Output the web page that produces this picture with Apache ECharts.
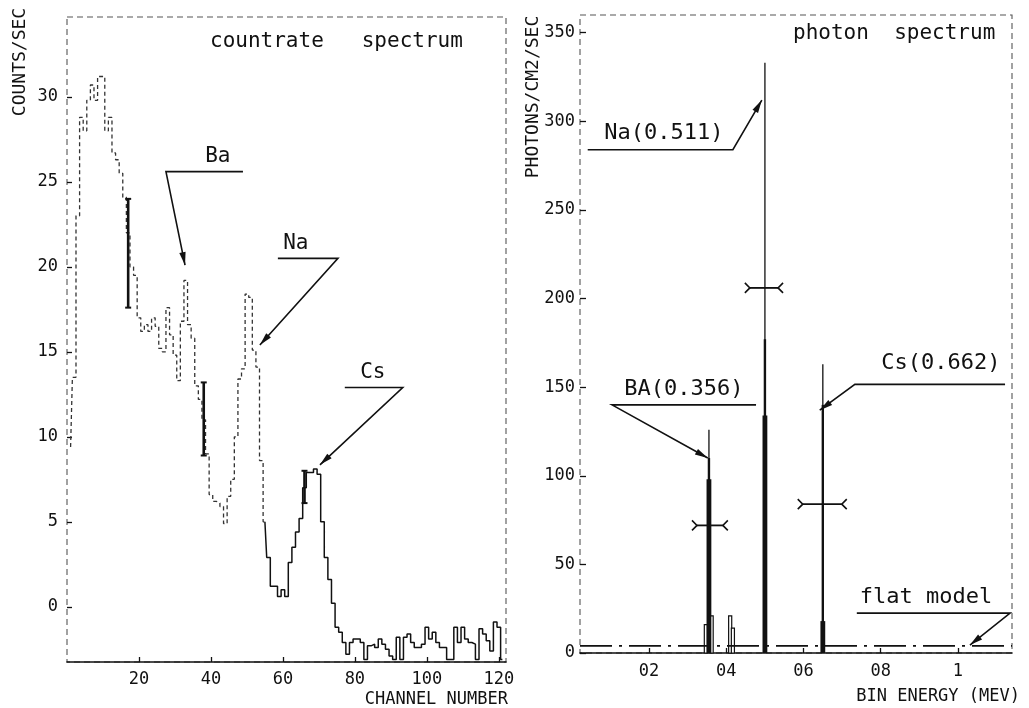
<!DOCTYPE html>
<html lang="en">
<head>
    <meta charset="UTF-8">
    <title>countrate and photon spectrum</title>
    <style>
        * {
            margin: 0;
            padding: 0;
            box-sizing: border-box;
        }

        html, body {
            width: 1029px;
            height: 708px;
            background: #ffffff;
            overflow: hidden;
        }

        #chart {
            width: 1029px;
            height: 708px;
        }
    </style>
    <script src="https://cdn.jsdelivr.net/npm/echarts@6/dist/echarts.min.js"></script>
</head>
<body>
<div id="chart"></div>
<script type="text/javascript">
    // ---- countrate spectrum (left) ----
    var channels = []
    for (var c = 1; c <= 121; c++) channels.push(c)
    var counts = [
        9.4, 13.5, 23.0, 28.8, 28.0, 29.8, 30.7, 29.8, 31.2, 31.2,
        28.0, 28.8, 26.7, 26.3, 25.5, 24.1, 22.0, 20.0, 19.5, 17.0,
        16.2, 16.6, 16.2, 17.0, 16.5, 15.2, 15.0, 17.6, 16.0, 14.8,
        13.3, 16.8, 19.2, 16.6, 15.8, 13.0, 12.2, 11.0, 9.0, 6.6,
        6.2, 6.1, 5.9, 4.9, 6.5, 7.5, 10.0, 13.4, 14.0, 18.4,
        18.2, 15.1, 14.1, 8.6, 5.0, 2.9, 1.2, 1.2, 0.6, 1.0,
        0.6, 2.6, 3.5, 4.4, 5.2, 7.0, 7.9, 7.9, 8.1, 7.8,
        5.0, 2.9, 1.6, 0.2, -1.2, -1.5, -2.1, -2.8, -2.1, -1.9,
        -1.9, -2.1, -3.1, -2.3, -2.2, -2.4, -1.9, -2.2, -2.5, -2.9,
        -3.1, -1.8, -3.1, -1.8, -1.6, -2.1, -2.4, -2.4, -2.2, -1.2,
        -1.9, -1.5, -2.1, -2.4, -2.4, -3.1, -3.1, -1.2, -2.1, -1.2,
        -1.9, -2.1, -2.2, -3.1, -1.3, -1.6, -2.0, -2.6, -0.9, -1.2,
        -3.1
    ]
    var countErrCh = [17, 38, 66]
    var countErrLo = [17.6, 8.9, 6.1]
    var countErrHi = [24.0, 13.2, 8.0]
    var countTicksX = [20, 40, 60, 80, 100, 120]
    var countTicksY = [0, 5, 10, 15, 20, 25, 30]

    // ---- photon spectrum (right) ----
    var lineE = [0.355, 0.500, 0.650]
    var lineBase = [98, 134, 18]
    var lineMid = [110, 177, 140]
    var lineTop = [126, 333, 163]
    var sideE = [0.347, 0.362, 0.410, 0.417]
    var sideH = [16, 21, 21, 14]
    var photErrY = [72, 206, 84]
    var photErrLo = [0.324, 0.461, 0.598]
    var photErrHi = [0.391, 0.534, 0.699]
    var flatLevel = 4
    var photTicksX = [0.2, 0.4, 0.6, 0.8, 1.0]
    var photTicksY = [0, 50, 100, 150, 200, 250, 300, 350]

    var INK = '#111111'
    var MONO = '"DejaVu Sans Mono", monospace'

    function pairs(xs, ys) {
        return xs.map(function (x, i) { return [x, ys[i]] })
    }

    // callout: label text + polyline ending in an arrow, all in data units
    function callout(xi, yi, notes, fontSize) {
        return {
            type: 'custom',
            xAxisIndex: xi,
            yAxisIndex: yi,
            silent: true,
            clip: false,
            z: 10,
            data: notes.map(function (n) { return n.at }),
            renderItem: function (params, api) {
                var n = notes[params.dataIndex]
                var pts = n.path.map(function (p) { return api.coord(p) })
                var tip = pts[pts.length - 1]
                var prev = pts[pts.length - 2]
                var a = Math.atan2(tip[1] - prev[1], tip[0] - prev[0])
                var L = 13, W = 3.2
                var bx = tip[0] - L * Math.cos(a), by = tip[1] - L * Math.sin(a)
                var head = [tip,
                    [bx + W * Math.sin(a), by - W * Math.cos(a)],
                    [bx - W * Math.sin(a), by + W * Math.cos(a)]]
                var t = api.coord(n.at)
                return {
                    type: 'group',
                    children: [
                        {type: 'polyline', shape: {points: pts}, style: {stroke: INK, lineWidth: 1.6, fill: null}},
                        {type: 'polygon', shape: {points: head}, style: {fill: INK}},
                        {
                            type: 'text', x: t[0], y: t[1],
                            style: {
                                text: n.text, font: fontSize + 'px ' + MONO, fill: INK,
                                align: 'center', verticalAlign: 'middle'
                            }
                        }
                    ]
                }
            }
        }
    }

    var tickFont = {fontFamily: MONO, fontSize: 17, color: INK}

    var option = {
        backgroundColor: '#ffffff',
        animation: false,
        grid: [
            {left: 67, top: 17, width: 439, height: 645, show: true,
                borderColor: '#555', borderWidth: 1.1, borderType: [6, 4]},
            {left: 580, top: 15, width: 432, height: 638, show: true,
                borderColor: '#555', borderWidth: 1.1, borderType: [6, 4]}
        ],
        xAxis: [
            {
                type: 'value', gridIndex: 0, min: 0, max: 122,
                axisLine: {show: true, onZero: false, lineStyle: {color: INK, width: 1.6}},
                axisTick: {inside: true, length: 5, customValues: countTicksX, lineStyle: {color: INK, width: 1.3}},
                axisLabel: Object.assign({customValues: countTicksX, margin: 9}, tickFont),
                splitLine: {show: false}
            },
            {
                type: 'value', gridIndex: 1, min: 0.021, max: 1.14,
                axisLine: {show: true, onZero: false, lineStyle: {color: INK, width: 1.6}},
                axisTick: {inside: true, length: 5, customValues: photTicksX, lineStyle: {color: INK, width: 1.3}},
                axisLabel: Object.assign({
                    customValues: photTicksX, margin: 10,
                    formatter: function (v) {
                        return Math.abs(v - 1) < 1e-6 ? '1' : '0' + Math.round(v * 10)
                    }
                }, tickFont),
                splitLine: {show: false}
            }
        ],
        yAxis: [
            {
                type: 'value', gridIndex: 0, min: -3.25, max: 34.7,
                axisLine: {show: false, onZero: false},
                axisTick: {inside: true, length: 5, customValues: countTicksY, lineStyle: {color: INK, width: 1.3}},
                axisLabel: Object.assign({customValues: countTicksY, margin: 9}, tickFont),
                splitLine: {show: false}
            },
            {
                type: 'value', gridIndex: 1, min: 0, max: 360,
                axisLine: {show: false, onZero: false},
                axisTick: {inside: true, length: 6, customValues: photTicksY, lineStyle: {color: INK, width: 1.3}},
                axisLabel: Object.assign({customValues: photTicksY, margin: 5}, tickFont),
                splitLine: {show: false}
            }
        ],
        graphic: [
            {type: 'text', left: 210, top: 31, style: {text: 'countrate   spectrum', font: '21px ' + MONO, fill: INK}},
            {type: 'text', left: 793, top: 23, style: {text: 'photon  spectrum', font: '21px ' + MONO, fill: INK}},
            {type: 'text', x: 20, y: 62, rotation: Math.PI / 2,
                style: {text: 'COUNTS/SEC', font: '18px ' + MONO, fill: INK, align: 'center', verticalAlign: 'middle'}},
            {type: 'text', x: 533, y: 97, rotation: Math.PI / 2,
                style: {text: 'PHOTONS/CM2/SEC', font: '18px ' + MONO, fill: INK, align: 'center', verticalAlign: 'middle'}},
            {type: 'text', x: 508, y: 700,
                style: {text: 'CHANNEL NUMBER', font: '17px ' + MONO, fill: INK, align: 'right', verticalAlign: 'middle'}},
            {type: 'text', x: 1020, y: 697,
                style: {text: 'BIN ENERGY (MEV)', font: '17px ' + MONO, fill: INK, align: 'right', verticalAlign: 'middle'}}
        ],
        series: [
            // faint dashed part of the countrate histogram
            {
                type: 'line', xAxisIndex: 0, yAxisIndex: 0, step: 'middle', symbol: 'none',
                data: pairs(channels, counts).slice(0, 55),
                lineStyle: {color: '#333', width: 1.3, type: [4, 3]}
            },
            {
                type: 'line', xAxisIndex: 0, yAxisIndex: 0, step: 'middle', symbol: 'none',
                data: pairs(channels, counts).slice(54),
                lineStyle: {color: INK, width: 1.5}
            },
            // countrate error bars
            {
                type: 'custom', xAxisIndex: 0, yAxisIndex: 0, silent: true, z: 6,
                data: countErrCh.map(function (c, i) { return [c, countErrLo[i], countErrHi[i]] }),
                renderItem: function (params, api) {
                    var lo = api.coord([api.value(0), api.value(1)])
                    var hi = api.coord([api.value(0), api.value(2)])
                    return {
                        type: 'group', children: [
                            {type: 'line', shape: {x1: lo[0], y1: lo[1], x2: hi[0], y2: hi[1]}, style: {stroke: INK, lineWidth: 2.6}},
                            {type: 'line', shape: {x1: lo[0] - 3, y1: lo[1], x2: lo[0] + 3, y2: lo[1]}, style: {stroke: INK, lineWidth: 2}},
                            {type: 'line', shape: {x1: hi[0] - 3, y1: hi[1], x2: hi[0] + 3, y2: hi[1]}, style: {stroke: INK, lineWidth: 2}}
                        ]
                    }
                }
            },
            callout(0, 0, [
                {text: 'Ba', at: [41.9, 26.5], path: [[48.9, 25.6], [27.5, 25.6], [32.8, 20.1]]},
                {text: 'Na', at: [63.6, 21.4], path: [[58.6, 20.5], [75.3, 20.5], [53.6, 15.4]]},
                {text: 'Cs', at: [85.0, 13.8], path: [[77.2, 12.9], [93.3, 12.9], [70.3, 8.35]]}
            ], 21),

            // flat model
            {
                type: 'line', xAxisIndex: 1, yAxisIndex: 1, symbol: 'none', z: 4,
                data: [[0.021, flatLevel], [1.14, flatLevel]],
                lineStyle: {color: INK, width: 1.6, type: [32, 7, 3, 7]}
            },
            // small outlined side bins
            {
                type: 'custom', xAxisIndex: 1, yAxisIndex: 1, silent: true, z: 3,
                data: pairs(sideE, sideH),
                renderItem: function (params, api) {
                    var w = api.size([0.008, 0])[0]
                    var p0 = api.coord([api.value(0), 0])
                    var p1 = api.coord([api.value(0), api.value(1)])
                    return {
                        type: 'rect',
                        shape: {x: p0[0] - w / 2, y: p1[1], width: w, height: p0[1] - p1[1]},
                        style: {fill: '#fff', stroke: INK, lineWidth: 1.2}
                    }
                }
            },
            // line peaks
            {
                type: 'custom', xAxisIndex: 1, yAxisIndex: 1, silent: true, z: 5,
                data: lineE.map(function (e, i) { return [e, lineBase[i], lineMid[i], lineTop[i]] }),
                renderItem: function (params, api) {
                    var x = api.value(0)
                    var p0 = api.coord([x, 0])
                    var pb = api.coord([x, api.value(1)])
                    var pm = api.coord([x, api.value(2)])
                    var pt = api.coord([x, api.value(3)])
                    return {
                        type: 'group', children: [
                            {type: 'line', shape: {x1: p0[0], y1: p0[1], x2: pt[0], y2: pt[1]}, style: {stroke: INK, lineWidth: 1.3}},
                            {type: 'line', shape: {x1: p0[0], y1: p0[1], x2: pm[0], y2: pm[1]}, style: {stroke: INK, lineWidth: 2.4}},
                            {type: 'rect', shape: {x: p0[0] - 2.4, y: pb[1], width: 4.8, height: p0[1] - pb[1]}, style: {fill: INK}}
                        ]
                    }
                }
            },
            // horizontal error bars on the peaks
            {
                type: 'custom', xAxisIndex: 1, yAxisIndex: 1, silent: true, z: 6,
                data: photErrY.map(function (y, i) { return [photErrLo[i], y, photErrHi[i]] }),
                renderItem: function (params, api) {
                    var a = api.coord([api.value(0), api.value(1)])
                    var b = api.coord([api.value(2), api.value(1)])
                    return {
                        type: 'group', children: [
                            {type: 'line', shape: {x1: a[0], y1: a[1], x2: b[0], y2: b[1]}, style: {stroke: INK, lineWidth: 1.8}},
                            {type: 'polyline', shape: {points: [[a[0] - 5, a[1] - 5], [a[0], a[1]], [a[0] - 5, a[1] + 5]]}, style: {stroke: INK, lineWidth: 1.6, fill: null}},
                            {type: 'polyline', shape: {points: [[b[0] + 5, b[1] - 5], [b[0], b[1]], [b[0] + 5, b[1] + 5]]}, style: {stroke: INK, lineWidth: 1.6, fill: null}}
                        ]
                    }
                }
            },
            callout(1, 1, [
                {text: 'Na(0.511)', at: [0.238, 293], path: [[0.041, 284], [0.417, 284], [0.492, 312]]},
                {text: 'BA(0.356)', at: [0.290, 149], path: [[0.477, 140], [0.104, 140], [0.352, 110]]},
                {text: 'Cs(0.662)', at: [0.956, 163.5], path: [[1.122, 151.6], [0.733, 151.6], [0.642, 137]]},
                {text: 'flat model', at: [0.917, 31.6], path: [[0.738, 22.5], [1.135, 22.5], [1.031, 4.5]]}
            ], 22)
        ]
    }

    var myChart = echarts.init(document.getElementById('chart'), null, {renderer: 'canvas'})
    myChart.setOption(option)
</script>
</body>
</html>
